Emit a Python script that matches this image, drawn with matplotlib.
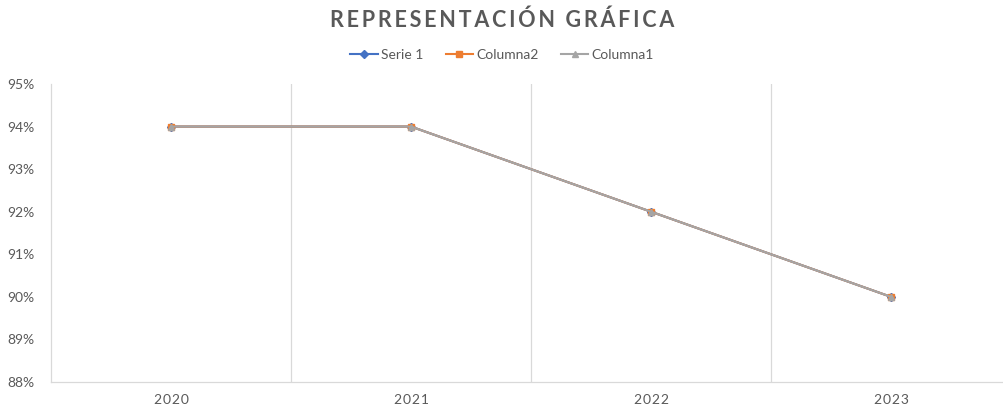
import numpy as np
import matplotlib
matplotlib.use('Agg')
from matplotlib import pyplot as plt
from matplotlib.ticker import FuncFormatter

years = ['2020', '2021', '2022', '2023']
serie1 = [0.94, 0.94, 0.92, 0.90]
columna2 = [0.94, 0.94, 0.92, 0.90]
columna1 = [0.94, 0.94, 0.92, 0.90]

plt.rcParams['font.family'] = ['Lato', 'DejaVu Sans']
txt = '#595959'
grid = '#D9D9D9'

fig = plt.figure(figsize=(10.04, 4.08), dpi=100)
ax = fig.add_axes([51 / 1004, 1 - 382 / 408, 1 - 51 / 1004, (382 - 84) / 408])

x = np.arange(len(years))
ax.plot(x, serie1, color='#4472C4', marker='D', markersize=4, linewidth=1.5, label='Serie 1')
ax.plot(x, columna2, color='#ED7D31', marker='s', markersize=5, linewidth=1.5, label='Columna2')
ax.plot(x, columna1, color='#A5A5A5', marker='^', markersize=5, linewidth=1.5, label='Columna1')

ax.set_xlim(-0.5, -0.5 + (1004 - 51) / 240)
ax.set_ylim(0.88, 0.95)
ax.set_yticks(np.arange(0.88, 0.9501, 0.01))
ax.yaxis.set_major_formatter(FuncFormatter(lambda v, p: '{:.0f}%'.format(v * 100)))
ax.set_xticks(x)
ax.set_xticklabels(['\u200a'.join(y) for y in years])

# vertical lines between the categories
for b in x[:-1] + 0.5:
    ax.axvline(b, color=grid, linewidth=0.9, zorder=0)

for s in ['top', 'right']:
    ax.spines[s].set_visible(False)
for s in ['left', 'bottom']:
    ax.spines[s].set_color(grid)
    ax.spines[s].set_linewidth(0.9)
ax.tick_params(length=0, colors=txt, labelsize=10)
ax.tick_params(axis='y', pad=12)
ax.tick_params(axis='x', pad=9)

title = 'REPRESENTACIÓN GRÁFICA'
fig.text(0.5, 1 - 20 / 408, '\u2009'.join(title).replace('\u2009 \u2009', '  '),
         ha='center', va='center', fontsize=15.5, fontweight='bold', color=txt)

fig.legend(loc='center', bbox_to_anchor=(0.5, 1 - 55 / 408), ncol=3, frameon=False,
           fontsize=10, labelcolor=txt, handlelength=2.0, columnspacing=1.6, handletextpad=0.2)

fig.savefig('out.png', dpi=100)
